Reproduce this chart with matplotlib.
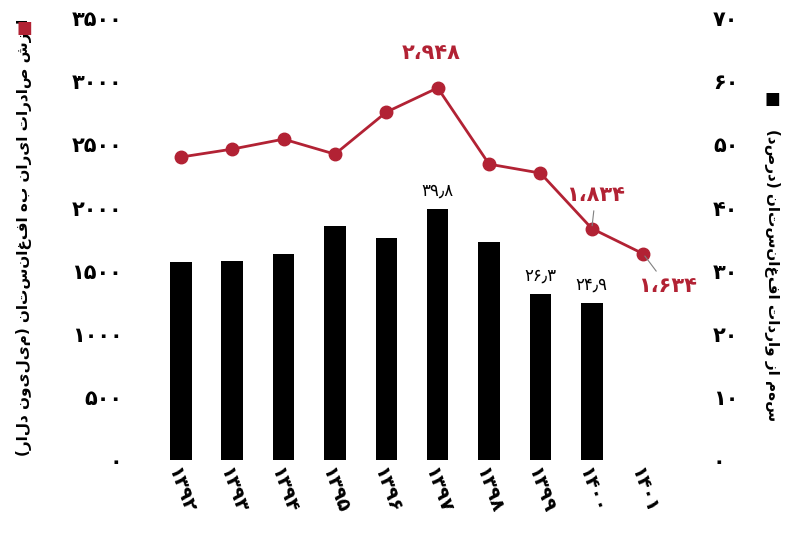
import matplotlib
matplotlib.use("Agg")
import matplotlib.pyplot as plt

years = ["۱۳۹۲","۱۳۹۳","۱۳۹۴","۱۳۹۵","۱۳۹۶","۱۳۹۷","۱۳۹۸","۱۳۹۹","۱۴۰۰","۱۴۰۱"]
export_value = [2400, 2463, 2542, 2423, 2756, 2948, 2344, 2273, 1834, 1634]
share = [31.4, 31.5, 32.6, 37.1, 35.2, 39.8, 34.5, 26.3, 24.9, None]
left_ticks = ["۰","۵۰۰","۱۰۰۰","۱۵۰۰","۲۰۰۰","۲۵۰۰","۳۰۰۰","۳۵۰۰"]
right_ticks = ["۰","۱۰","۲۰","۳۰","۴۰","۵۰","۶۰","۷۰"]
left_label = "ارزش صادرات ایران به افغانستان (میلیون دلار)"
right_label = "سهم از واردات افغانستان (درصد)"
red = "#B22234"

def vis(s):
    m = {"(": ")", ")": "("}
    return "".join(m.get(c, c) for c in reversed(s))

fig = plt.figure(figsize=(8, 5.51), dpi=100)
axl = fig.add_axes([0.1875, 0.165, 0.655, 0.802])
axr = axl.twinx()
x = list(range(len(years)))

bx = [i for i, v in enumerate(share) if v is not None]
bv = [v for v in share if v is not None]
axr.bar(bx, bv, width=0.42, color="black", zorder=1)
axr.set_ylim(0, 70)
axr.set_yticks(range(0, 71, 10))
axr.set_yticklabels(right_ticks, fontsize=15, fontweight="bold")
axr.tick_params(axis="y", pad=28)
for i, lab in [(5, "۳۹٫۸"), (7, "۲۶٫۳"), (8, "۲۴٫۹")]:
    axr.text(i, share[i] + 1.5, lab, ha="center", va="bottom", fontsize=12)

axl.set_zorder(axr.get_zorder() + 1)
axl.patch.set_visible(False)
axl.plot(x, export_value, color=red, lw=2, marker="o", ms=9, zorder=3)
axl.set_ylim(0, 3500)
axl.set_yticks(range(0, 3501, 500))
axl.set_yticklabels(left_ticks, fontsize=15, fontweight="bold")
axl.tick_params(axis="y", pad=20)
axl.set_xlim(-0.6, 9.6)
axl.set_xticks(x)
axl.set_xticklabels(years, rotation=-70, fontsize=14, fontweight="bold", ha="center", va="top")
axl.annotate("۲،۹۴۸", (5, 2948), xytext=(4.3, 3180), fontsize=15, fontweight="bold", color=red)
axl.annotate("۱،۸۳۴", (8, 1834), xytext=(7.5, 2050), fontsize=15, fontweight="bold", color=red,
             arrowprops=dict(arrowstyle="-", color="gray", lw=0.8))
axl.annotate("۱،۶۳۴", (9, 1634), xytext=(8.9, 1330), fontsize=15, fontweight="bold", color=red,
             arrowprops=dict(arrowstyle="-", color="gray", lw=0.8))

for a in (axl, axr):
    for s in a.spines.values():
        s.set_visible(False)
    a.tick_params(length=0)

fig.text(0.03, 0.57, vis(left_label), rotation=90, ha="center", va="center", fontsize=11, fontweight="bold")
fig.text(0.03, 0.95, "■", color=red, ha="center", va="center", fontsize=12)
fig.text(0.965, 0.50, vis(right_label), rotation=-90, ha="center", va="center", fontsize=11, fontweight="bold")
fig.text(0.965, 0.82, "■", color="black", ha="center", va="center", fontsize=12)
fig.savefig("out.png", dpi=100)
